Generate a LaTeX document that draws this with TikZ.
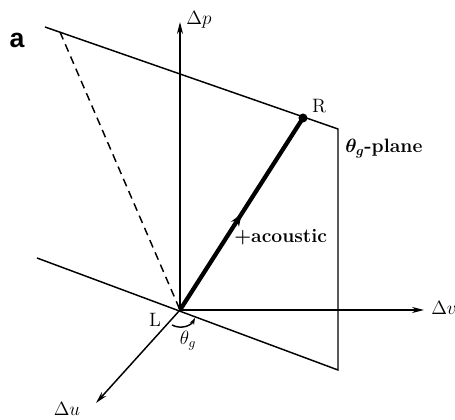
\documentclass[tikz,border=0pt]{standalone}
\usepackage{amsmath}
\usepackage{fontspec}
\newfontfamily\labelsans{Liberation Sans}
\usetikzlibrary{arrows.meta,decorations.markings,calc}
\begin{document}
\begin{tikzpicture}[x=0.75pt,y=-0.75pt,
  thinline/.style={line width=1.1pt},
  axisarrow/.style={thinline,-{Stealth[length=9pt,width=4.5pt]}},
  txt/.style={inner sep=0pt,font=\fontsize{14.5}{16}\selectfont},
  midarrow/.style={decoration={markings,mark=at position 0.5 with {\arrow{Stealth[length=9pt,width=7pt]}}},postaction={decorate}}]
\useasboundingbox (0,0) rectangle (455,420);
% points
\coordinate (L) at (180,310);
\coordinate (Ptop) at (180,22);
\coordinate (Vend) at (424,310);
\coordinate (Uend) at (96,403);
\coordinate (TL) at (45,27);
\coordinate (TR) at (338,129);
\coordinate (BR) at (338,370);
\coordinate (BL) at (37,258);
\coordinate (D) at (60,32);
\coordinate (R) at (303,118);
% plane
\draw[thinline] (TL) -- (TR) -- (BR) -- (BL);
% dashed
\draw[thinline,dashed,dash pattern=on 6pt off 4pt] (D) -- (L);
% axes
\draw[axisarrow] (L) -- (Ptop);
\draw[axisarrow] (L) -- (Vend);
\draw[axisarrow] (L) -- (Uend);
% thick ray
\draw[line width=3.2pt,midarrow] (L) -- (R);
\fill (R) circle (4.5);
% angle arc
\draw[thinline,-{Stealth[length=5pt,width=3.5pt]}] ($(L)+(118:17)$) arc[start angle=118,end angle=28,radius=17];
% labels
\node[txt] (lp) at (199,20) {$\Delta p$};
\node[txt,anchor=west] (lv) at (431,308) {$\Delta v$};
\node[txt] (lu) at (67,409) {$\Delta u$};
\node[txt] (lR) at (319,106) {R};
\node[txt,anchor=west] (lplane) at (345,149) {$\boldsymbol{\theta_g}$\textbf{-plane}};
\node[txt,anchor=west] (lac) at (234,237) {\textbf{+acoustic}};
\node[txt] (lL) at (155,320) {L};
\node[txt] (lth) at (188,341) {$\theta_g$};
\node[inner sep=0pt,font=\labelsans\bfseries\fontsize{20}{22}\selectfont] (la) at (17,40) {a};
\end{tikzpicture}
\end{document}
